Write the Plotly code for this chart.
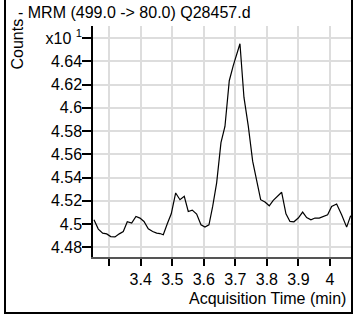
import plotly.graph_objects as go

# Acquisition time (min)
times = [3.2518, 3.2655, 3.2794, 3.2921, 3.3048, 3.3184, 3.3320, 3.3447, 3.3574, 3.3713,
         3.3849, 3.3976, 3.4103, 3.4239, 3.4379, 3.4506, 3.4610, 3.4715, 3.4842, 3.4968,
         3.5108, 3.5244, 3.5380, 3.5507, 3.5634, 3.5773, 3.5910, 3.6036, 3.6163, 3.6281,
         3.6407, 3.6544, 3.6670, 3.6807, 3.6933, 3.7146, 3.7273, 3.7409, 3.7548, 3.7675,
         3.7802, 3.7938, 3.8075, 3.8201, 3.8341, 3.8468, 3.8604, 3.8731, 3.8857, 3.8994,
         3.9133, 3.9260, 3.9396, 3.9523, 3.9659, 3.9786, 3.9925, 4.0052, 4.0211, 4.0369,
         4.0528, 4.0655]
# Counts (x10^1)
counts = [4.5036, 4.4956, 4.4921, 4.4915, 4.4892, 4.4889, 4.4915, 4.4935, 4.5019, 4.5008,
          4.5065, 4.5051, 4.5022, 4.4958, 4.4935, 4.4921, 4.4918, 4.4907, 4.5002, 4.5088,
          4.5267, 4.5209, 4.5238, 4.5108, 4.5120, 4.5086, 4.4993, 4.4973, 4.4993, 4.5151,
          4.5354, 4.5700, 4.5839, 4.6233, 4.6363, 4.6551, 4.6089, 4.5844, 4.5541, 4.5382,
          4.5209, 4.5189, 4.5157, 4.5203, 4.5238, 4.5273, 4.5088, 4.5022, 4.5019, 4.5051,
          4.5103, 4.5056, 4.5036, 4.5051, 4.5051, 4.5065, 4.5080, 4.5151, 4.5172, 4.5080,
          4.4973, 4.5071]

x_tickvals = [3.3, 3.4, 3.5, 3.6, 3.7, 3.8, 3.9, 4.0]
x_ticktext = [" ", "3.4", "3.5", "3.6", "3.7", "3.8", "3.9", "4"]
y_tickvals = [4.48, 4.50, 4.52, 4.54, 4.56, 4.58, 4.60, 4.62, 4.64, 4.66]
y_ticktext = ["4.48", "4.5", "4.52", "4.54", "4.56", "4.58", "4.6", "4.62", "4.64", "x10 <sup>1</sup>"]

title_text = "- MRM (499.0 -> 80.0) Q28457.d"
x_title = "Acquisition Time (min)"
y_title = "Counts"

FONT = "Liberation Sans, Arial, sans-serif"
W, H = 354, 322
L, R, T, B = 93, 3, 26, 65
pw, ph = W - L - R, H - T - B

def px_x(p):
    return (p - L) / pw

def px_y(p):
    return (H - B - p) / ph

fig = go.Figure()
fig.add_trace(go.Scatter(x=times, y=counts, mode="lines",
                         line=dict(color="black", width=1.2), showlegend=False))

fig.update_layout(
    width=W, height=H,
    margin=dict(l=L, r=R, t=T, b=B, pad=0),
    paper_bgcolor="white", plot_bgcolor="white",
    font=dict(family=FONT, size=16, color="black"),
    xaxis=dict(range=[3.2487, 4.0666], tickvals=x_tickvals, ticktext=x_ticktext,
               showgrid=True, gridcolor="#dddddd", gridwidth=1.5,
               showline=True, linecolor="#555555", linewidth=2,
               ticks="outside", ticklen=7, tickcolor="black", tickwidth=1.5,
               zeroline=False, tickfont=dict(size=16)),
    yaxis=dict(range=[4.4716, 4.6704], tickvals=y_tickvals, ticktext=y_ticktext,
               showgrid=True, gridcolor="#dddddd", gridwidth=1.5,
               showline=True, linecolor="black", linewidth=1.5,
               ticks="outside", ticklen=9, tickcolor="black", tickwidth=1.5,
               zeroline=False, tickfont=dict(size=16), ticklabelstandoff=-3),
)

fig.add_annotation(text=title_text, xref="paper", yref="paper",
                   x=px_x(16), y=px_y(12), xanchor="left", yanchor="middle",
                   showarrow=False, font=dict(size=16))
fig.add_annotation(text=x_title, xref="paper", yref="paper",
                   x=px_x(348), y=px_y(298), xanchor="right", yanchor="middle",
                   showarrow=False, font=dict(size=16))
fig.add_annotation(text=y_title, xref="paper", yref="paper",
                   x=px_x(17), y=px_y(17), xanchor="center", yanchor="top",
                   textangle=-90, showarrow=False, font=dict(size=16))

# outer frame
fig.add_shape(type="rect", xref="paper", yref="paper",
              x0=px_x(5), x1=px_x(352), y0=px_y(313), y1=px_y(-2),
              line=dict(color="black", width=2), layer="above")

fig.write_html("out.html", config={"displayModeBar": False},
               post_script="document.body.style.margin='0';document.body.style.overflow='hidden';")
